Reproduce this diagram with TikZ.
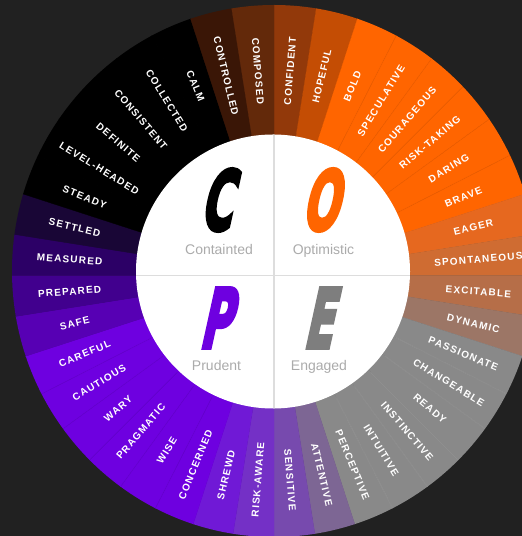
\documentclass[tikz,border=0pt]{standalone}
\usepackage{fontspec}
\setmainfont{Liberation Sans}
\newfontfamily\labfont[LetterSpace=12]{Liberation Sans}
\newfontfamily\bigfont[BoldFeatures={FakeBold=5}]{DejaVu Sans}
\definecolor{bg}{HTML}{212121}
\definecolor{cBlk}{HTML}{000000}
\definecolor{cCtl}{HTML}{3A1606}
\definecolor{cCmp}{HTML}{63290A}
\definecolor{cCnf}{HTML}{92390A}
\definecolor{cHop}{HTML}{C44D04}
\definecolor{cOra}{HTML}{FF6500}
\definecolor{cEag}{HTML}{E6681F}
\definecolor{cSpo}{HTML}{CF6C32}
\definecolor{cExc}{HTML}{B66E48}
\definecolor{cDyn}{HTML}{9C7666}
\definecolor{cGry}{HTML}{898989}
\definecolor{cAtt}{HTML}{7D6694}
\definecolor{cSen}{HTML}{774AAE}
\definecolor{cRsk}{HTML}{7430C6}
\definecolor{cShr}{HTML}{7019D6}
\definecolor{cPur}{HTML}{6E00E0}
\definecolor{cSaf}{HTML}{5700B4}
\definecolor{cPre}{HTML}{41008E}
\definecolor{cMea}{HTML}{2C0066}
\definecolor{cSet}{HTML}{190636}
\definecolor{crossc}{HTML}{DDDDDD}
\definecolor{capc}{HTML}{ABABAB}
\definecolor{bigE}{HTML}{7E7E7E}
\tikzset{
  seglab/.style={text=white, inner sep=0pt, font=\labfont\bfseries\fontsize{10}{12}\selectfont},
  quadlab/.style={text=capc, anchor=base, inner sep=0pt, font=\fontsize{14}{16}\selectfont},
  bigletter/.style={transform shape, inner sep=0pt, font=\bigfont\bfseries\fontsize{82}{82}\selectfont},
  sepdark/.style={black, opacity=0.05, line width=0.8pt},
  seplight/.style={white, opacity=0.07, line width=0.8pt}
}
\begin{document}
\begin{tikzpicture}[x=1pt,y=1pt]
\useasboundingbox (0,0) rectangle (522,536);
\clip (0,0) rectangle (522,536);
\fill[bg] (0,0) rectangle (522,536);
\coordinate (apex) at (274,260.5);
\coordinate (ctr) at (274,265);
\begin{scope}
  \clip (ctr) ellipse [x radius=262, y radius=266];
  \foreach \k/\word/\col in {0/CONFIDENT/cCnf,1/HOPEFUL/cHop,2/BOLD/cOra,3/SPECULATIVE/cOra,4/COURAGEOUS/cOra,5/RISK-TAKING/cOra,6/DARING/cOra,7/BRAVE/cOra,8/EAGER/cEag,9/SPONTANEOUS/cSpo,10/EXCITABLE/cExc,11/DYNAMIC/cDyn,12/PASSIONATE/cGry,13/CHANGEABLE/cGry,14/READY/cGry,15/INSTINCTIVE/cGry,16/INTUITIVE/cGry,17/PERCEPTIVE/cGry,18/ATTENTIVE/cAtt,19/SENSITIVE/cSen,20/RISK-AWARE/cRsk,21/SHREWD/cShr,22/CONCERNED/cPur,23/WISE/cPur,24/PRAGMATIC/cPur,25/WARY/cPur,26/CAUTIOUS/cPur,27/CAREFUL/cPur,28/SAFE/cSaf,29/PREPARED/cPre,30/MEASURED/cMea,31/SETTLED/cSet,32/STEADY/cBlk,33/LEVEL-HEADED/cBlk,34/DEFINITE/cBlk,35/CONSISTENT/cBlk,36/COLLECTED/cBlk,37/CALM/cBlk,38/CONTROLLED/cCtl,39/COMPOSED/cCmp}{
    \pgfmathsetmacro\aA{90-9*\k}
    \pgfmathsetmacro\aB{90-9*\k-9}
    \fill[\col, draw=\col, line width=0.3pt] (apex) -- ([shift={(\aA:400)}]apex) -- ([shift={(\aB:400)}]apex) -- cycle;
  }
  \foreach \k in {3,...,7,23,24,25,26,27}{
    \pgfmathsetmacro\aS{90-9*\k}
    \draw[sepdark] ([shift={(\aS:137)}]apex) -- ([shift={(\aS:280)}]apex);
  }
  \foreach \k in {13,...,17}{
    \pgfmathsetmacro\aS{90-9*\k}
    \draw[seplight] ([shift={(\aS:137)}]apex) -- ([shift={(\aS:280)}]apex);
  }
\end{scope}
\foreach \k/\word in {0/CONFIDENT,1/HOPEFUL,2/BOLD,3/SPECULATIVE,4/COURAGEOUS,5/RISK-TAKING,6/DARING,7/BRAVE,8/EAGER,9/SPONTANEOUS,10/EXCITABLE,11/DYNAMIC,12/PASSIONATE,13/CHANGEABLE,14/READY,15/INSTINCTIVE,16/INTUITIVE,17/PERCEPTIVE,18/ATTENTIVE,19/SENSITIVE,20/RISK-AWARE,21/SHREWD,22/CONCERNED,23/WISE,24/PRAGMATIC,25/WARY,26/CAUTIOUS,27/CAREFUL,28/SAFE,29/PREPARED,30/MEASURED,31/SETTLED,32/STEADY,33/LEVEL-HEADED,34/DEFINITE,35/CONSISTENT,36/COLLECTED,37/CALM,38/CONTROLLED,39/COMPOSED}{
  \pgfmathsetmacro\m{85.5-9*\k}
  \pgfmathsetmacro\rot{ifthenelse(\m<-90,\m+180,\m)}
  \node[seglab, rotate=\rot] (t\k) at ([shift={(\m:205)}]apex) {\word};
}
% inner disc
\fill[white] (273,264.5) circle[radius=137];
\begin{scope}
  \clip (273,264.5) circle[radius=137];
  \draw[crossc, line width=1.5pt] (120,260.5) -- (430,260.5);
  \draw[crossc, line width=1.5pt] (273.8,110) -- (273.8,420);
\end{scope}
% big letters
\begin{scope}[shift={(222,336)}, xslant=0.22, xscale=0.52]
  \node[bigletter, text=black] (bigC) at (0,0) {C};
\end{scope}
\begin{scope}[shift={(326,336)}, xslant=0.22, xscale=0.52]
  \node[bigletter, text=cOra] (bigO) at (0,0) {O};
\end{scope}
\begin{scope}[shift={(221,218)}, xslant=0.22, xscale=0.52]
  \node[bigletter, text=cPur] (bigP) at (0,0) {P};
\end{scope}
\begin{scope}[shift={(324,218)}, xslant=0.22, xscale=0.52]
  \node[bigletter, text=bigE] (bigE) at (0,0) {E};
\end{scope}
\node[quadlab] (lc) at (219,281) {Containted};
\node[quadlab] (lo) at (323.5,281) {Optimistic};
\node[quadlab] (lp) at (216.5,165) {Prudent};
\node[quadlab] (le) at (319,165) {Engaged};
\end{tikzpicture}
\end{document}
